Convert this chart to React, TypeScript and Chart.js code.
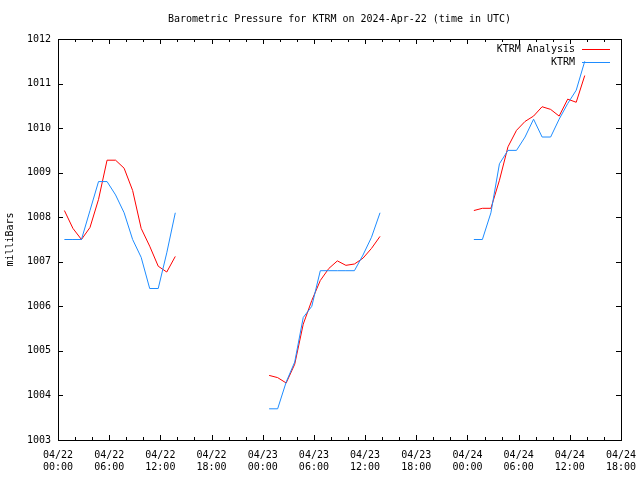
import React, { useEffect, useRef } from "react";
import { Chart, registerables } from "chart.js";

Chart.register(...registerables);

const TITLE = "Barometric Pressure for KTRM on 2024-Apr-22 (time in UTC)";
const Y_LABEL = "milliBars";
const SERIES_ANALYSIS = "KTRM Analysis";
const SERIES_OBS = "KTRM";

// hours since 2024-04-22 00:00 UTC (null entries break the line between segments)
const hours = [
  0.75, 1.75, 2.75, 3.75, 4.75, 5.75, 6.75, 7.75, 8.75, 9.75, 10.75, 11.75, 12.75, 13.75,
  19,
  24.75, 25.75, 26.75, 27.75, 28.75, 29.75, 30.75, 31.75, 32.75, 33.75, 34.75, 35.75, 36.75, 37.75,
  43,
  48.75, 49.75, 50.75, 51.75, 52.75, 53.75, 54.75, 55.75, 56.75, 57.75, 58.75, 59.75, 60.75, 61.75,
];

const obsValues: (number | null)[] = [
  1007.5, 1007.5, 1007.5, 1008.15, 1008.8, 1008.8, 1008.5, 1008.1, 1007.5, 1007.1, 1006.4, 1006.4, 1007.2, 1008.1,
  null,
  1003.7, 1003.7, 1004.3, 1004.75, 1005.75, 1006.0, 1006.8, 1006.8, 1006.8, 1006.8, 1006.8, 1007.15, 1007.55, 1008.1,
  null,
  1007.5, 1007.5, 1008.1, 1009.2, 1009.5, 1009.5, 1009.8, 1010.2, 1009.8, 1009.8, 1010.2, 1010.55, 1010.85, 1011.5,
];

const analysisValues: (number | null)[] = [
  1008.15, 1007.75, 1007.5, 1007.77, 1008.4, 1009.28, 1009.28, 1009.1, 1008.6, 1007.75, 1007.35, 1006.9, 1006.77, 1007.12,
  null,
  1004.45, 1004.4, 1004.28, 1004.7, 1005.6, 1006.13, 1006.58, 1006.85, 1007.02, 1006.92, 1006.95, 1007.08, 1007.3, 1007.57,
  null,
  1008.15, 1008.2, 1008.2, 1008.83, 1009.58, 1009.95, 1010.15, 1010.27, 1010.48, 1010.42, 1010.27, 1010.65, 1010.58, 1011.18,
];

const xTickDates = ["04/22", "04/22", "04/22", "04/22", "04/23", "04/23", "04/23", "04/23", "04/24", "04/24", "04/24", "04/24"];
const xTickTimes = ["00:00", "06:00", "12:00", "18:00", "00:00", "06:00", "12:00", "18:00", "00:00", "06:00", "12:00", "18:00"];

const X_MIN = 0;
const X_MAX = 66;
const Y_MIN = 1003;
const Y_MAX = 1012;

const RED = "#ff0000";
const BLUE = "#1e8cff";
const FONT = "'DejaVu Sans Mono', 'Liberation Mono', monospace";

const decorPlugin = {
  id: "gnuplotDecor",
  afterDraw(chart: any) {
    const ctx = chart.ctx as CanvasRenderingContext2D;
    const { left, right, top, bottom } = chart.chartArea;
    const xs = chart.scales.x;
    const ys = chart.scales.y;
    ctx.save();
    ctx.strokeStyle = "#000";
    ctx.lineWidth = 1;
    // frame
    ctx.strokeRect(Math.round(left) + 0.5, Math.round(top) + 0.5, Math.round(right - left), Math.round(bottom - top));
    ctx.beginPath();
    // x ticks (major every 6h, minor every 2h), inward, mirrored
    for (let h = X_MIN; h <= X_MAX; h += 2) {
      const px = Math.round(xs.getPixelForValue(h)) + 0.5;
      const len = h % 6 === 0 ? 5 : 3;
      ctx.moveTo(px, bottom);
      ctx.lineTo(px, bottom - len);
      ctx.moveTo(px, top);
      ctx.lineTo(px, top + len);
    }
    // y ticks
    for (let v = Y_MIN; v <= Y_MAX; v += 1) {
      const py = Math.round(ys.getPixelForValue(v)) + 0.5;
      ctx.moveTo(left, py);
      ctx.lineTo(left + 5, py);
      ctx.moveTo(right, py);
      ctx.lineTo(right - 5, py);
    }
    ctx.stroke();

    ctx.fillStyle = "#000";
    ctx.font = `10px ${FONT}`;
    // title
    ctx.textAlign = "center";
    ctx.textBaseline = "middle";
    ctx.fillText(TITLE, (left + right) / 2, 19);
    // y label
    ctx.save();
    ctx.translate(10, (top + bottom) / 2);
    ctx.rotate(-Math.PI / 2);
    ctx.fillText(Y_LABEL, 0, 0);
    ctx.restore();
    // legend
    const entries = [
      { label: SERIES_ANALYSIS, color: RED, y: 49.5 },
      { label: SERIES_OBS, color: BLUE, y: 62.5 },
    ];
    for (const e of entries) {
      ctx.textAlign = "right";
      ctx.fillStyle = "#000";
      ctx.fillText(e.label, 575, e.y);
      ctx.strokeStyle = e.color;
      ctx.beginPath();
      ctx.moveTo(582, e.y);
      ctx.lineTo(610, e.y);
      ctx.stroke();
    }
    ctx.restore();
  },
};

export default function App() {
  const canvasRef = useRef<HTMLCanvasElement | null>(null);

  useEffect(() => {
    document.body.style.margin = "0";
    const canvas = canvasRef.current;
    if (!canvas) return;
    const chart = new Chart(canvas, {
      type: "line",
      data: {
        datasets: [
          {
            label: SERIES_OBS,
            data: hours.map((h, i) => ({ x: h, y: obsValues[i] })) as any,
            borderColor: BLUE,
            borderWidth: 1,
            pointRadius: 0,
            tension: 0,
            spanGaps: false,
            order: 0,
          },
          {
            label: SERIES_ANALYSIS,
            data: hours.map((h, i) => ({ x: h, y: analysisValues[i] })) as any,
            borderColor: RED,
            borderWidth: 1,
            pointRadius: 0,
            tension: 0,
            spanGaps: false,
            order: 1,
          },
        ],
      },
      options: {
        animation: false,
        responsive: false,
        devicePixelRatio: 1,
        layout: { padding: { top: 39, right: 19, left: 0, bottom: 0 } },
        plugins: {
          legend: { display: false },
          title: { display: false },
          tooltip: { enabled: false },
        },
        scales: {
          x: {
            type: "linear",
            min: X_MIN,
            max: X_MAX,
            grid: { display: false, drawTicks: false },
            border: { display: false },
            afterFit: (s: any) => {
              s.height = 40;
              s.paddingLeft = 0;
              s.paddingRight = 0;
            },
            ticks: {
              stepSize: 6,
              autoSkip: false,
              maxRotation: 0,
              padding: 9,
              color: "#000",
              font: { family: FONT, size: 10, lineHeight: 1.2 },
              callback: (v: any) => {
                const i = Math.round(Number(v) / 6);
                return [xTickDates[i], xTickTimes[i]];
              },
            },
          },
          y: {
            type: "linear",
            min: Y_MIN,
            max: Y_MAX,
            grid: { display: false, drawTicks: false },
            border: { display: false },
            afterFit: (s: any) => {
              s.width = 58;
              s.paddingTop = 0;
              s.paddingBottom = 0;
            },
            ticks: {
              stepSize: 1,
              padding: 7,
              color: "#000",
              font: { family: FONT, size: 10 },
              callback: (v: any) => String(v),
            },
          },
        },
      },
      plugins: [decorPlugin],
    });
    return () => chart.destroy();
  }, []);

  return <canvas ref={canvasRef} width={640} height={480} style={{ display: "block" }} />;
}
